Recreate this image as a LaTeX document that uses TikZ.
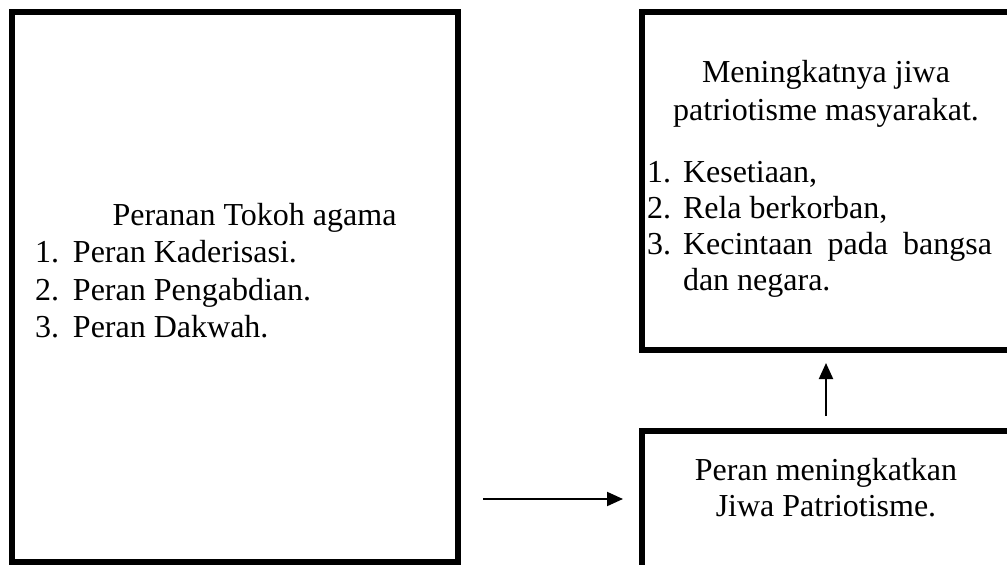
\documentclass[tikz,border=0pt]{standalone}
\usepackage{fontspec}
\setmainfont{Liberation Serif}
\usetikzlibrary{arrows.meta}
\begin{document}
\begin{tikzpicture}[x=1pt,y=-1pt,
  boxframe/.style={draw=black,line width=6pt,fill=none,inner sep=0pt,outer sep=0pt},
  txt/.style={inner sep=0pt,outer sep=0pt,anchor=base,font=\fontsize{32}{37.5}\selectfont},
  txtl/.style={txt,anchor=base west},
  conn/.style={line width=2pt,-{Triangle[length=16pt,width=14pt]}}]
\useasboundingbox (0,0) rectangle (1007,565);
% boxes
\node[boxframe,minimum width=446pt,minimum height=550pt] (leftbox) at (235,287) {};
\node[boxframe,minimum width=368pt,minimum height=338pt] (topbox) at (826,181) {};
\node[boxframe,minimum width=368pt,minimum height=240pt] (botbox) at (826,551) {};
% left box text
\node[txt] (lt) at (254.5,225) {Peranan Tokoh agama};
\node[txtl] (l1) at (35,262) {\makebox[38pt][l]{1.}Peran Kaderisasi.};
\node[txtl] (l2) at (35,300) {\makebox[38pt][l]{2.}Peran Pengabdian.};
\node[txtl] (l3) at (35,337.5) {\makebox[38pt][l]{3.}Peran Dakwah.};
% top right text
\node[txt] (t1) at (826,82) {Meningkatnya jiwa};
\node[txt] (t2) at (826,120) {patriotisme masyarakat.};
\node[txtl] (r1) at (647,182) {\makebox[36pt][l]{1.}Kesetiaan,};
\node[txtl] (r2) at (647,218) {\makebox[36pt][l]{2.}Rela berkorban,};
\node[txtl] (r3) at (647,254) {\makebox[36pt][l]{3.}\makebox[309pt][s]{Kecintaan pada bangsa}};
\node[txtl] (r4) at (683,290) {dan negara.};
% bottom right text
\node[txt] (b1) at (826,480) {Peran meningkatkan};
\node[txt] (b2) at (826,516) {Jiwa Patriotisme.};
% connectors
\coordinate (hs) at (483,499);
\coordinate (he) at (623,499);
\coordinate (vs) at (826,416);
\coordinate (ve) at (826,363);
\draw[conn] (hs) -- (he);
\draw[conn] (vs) -- (ve);
\end{tikzpicture}
\end{document}
